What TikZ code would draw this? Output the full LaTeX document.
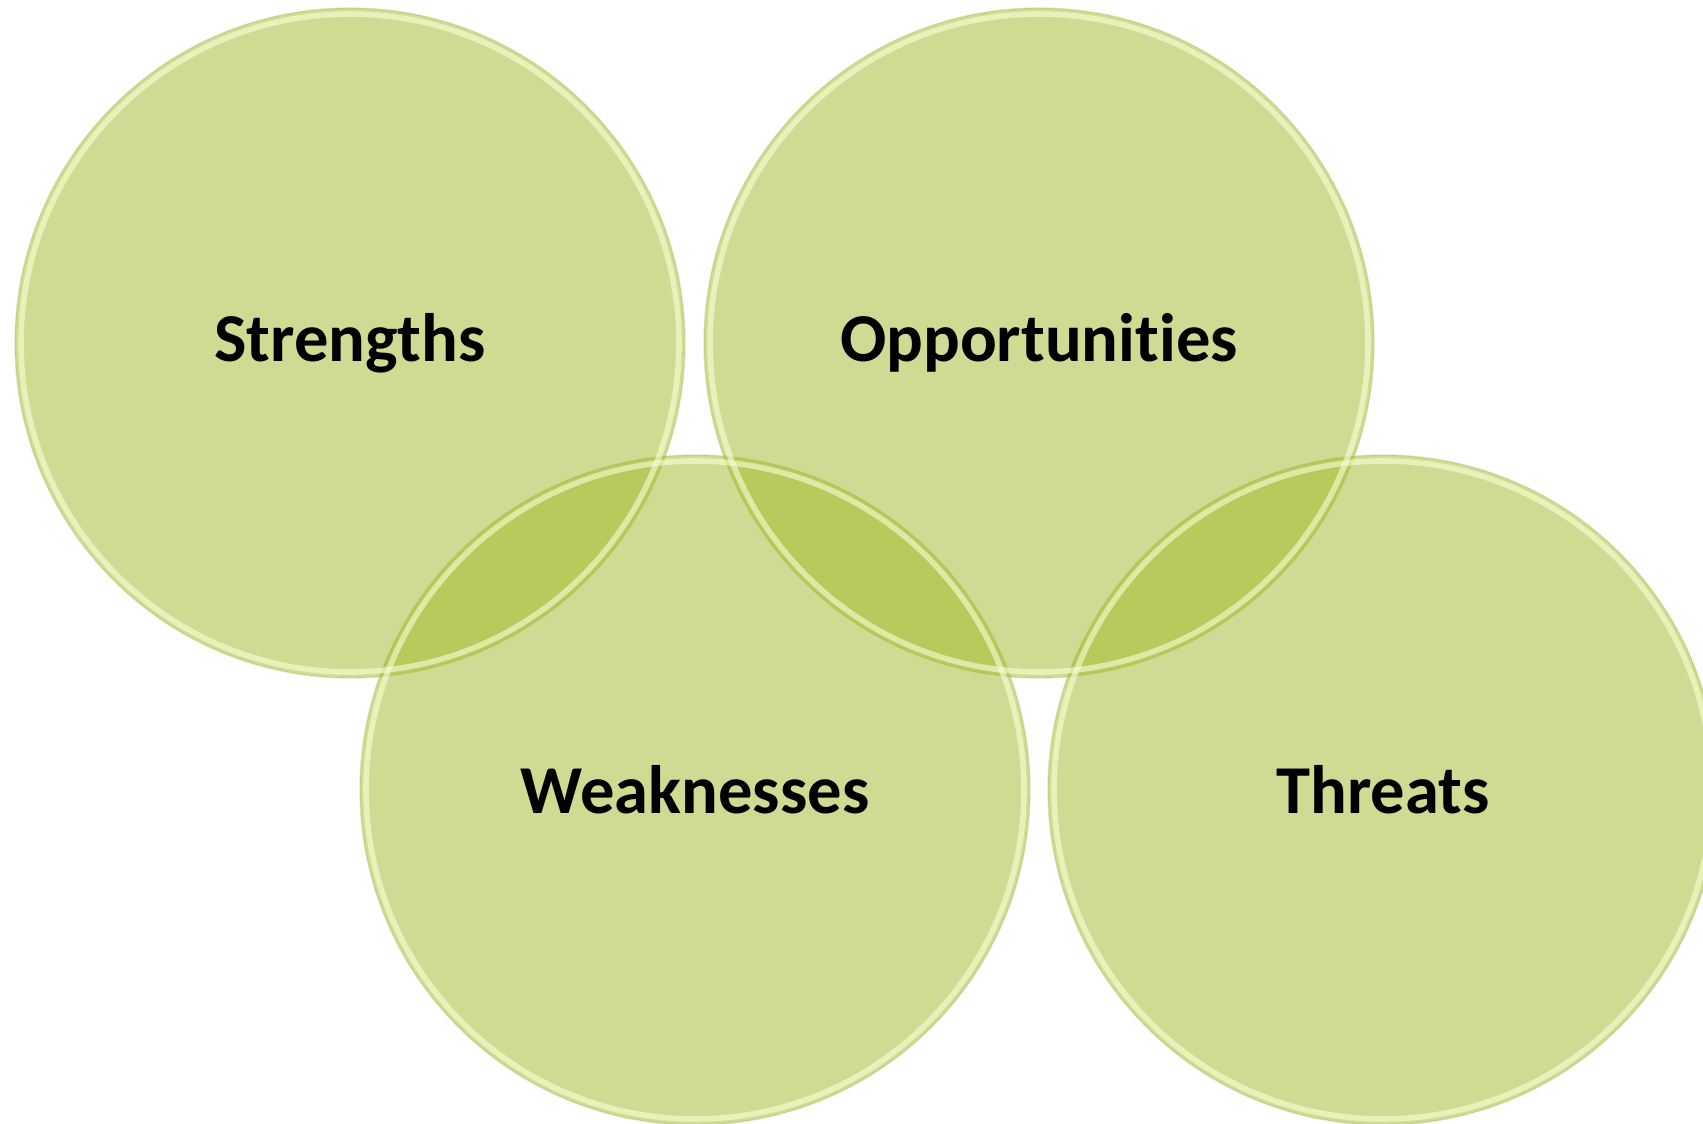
\documentclass[tikz,border=0pt]{standalone}
\usepackage{fontspec}
\setmainfont[Ligatures={NoCommon,NoContextual}]{Carlito}
\usetikzlibrary{positioning}

\definecolor{swotgreen}{RGB}{160,184,38}
\definecolor{swotrim}{RGB}{250,255,215}

\tikzset{
  swot/.style={circle, minimum size=6.70cm, inner sep=0pt, fill=swotgreen,
    fill opacity=0.5, text opacity=1, draw=swotgreen!70!gray, draw opacity=0.25,
    line width=0.4pt, font=\fontsize{19.5}{23}\selectfont\bfseries},
  rim/.style={draw=swotrim, line width=1.6pt, opacity=0.6}
}

\begin{document}
\begin{tikzpicture}
  \useasboundingbox (0,0) rectangle (17.03,-11.24);

  % Top row
  \node[swot] (str) at (3.50,-3.43) {Strengths};
  \node[swot] (opp) at (10.39,-3.43) {Opportunities};

  % Bottom row
  \node[swot] (wea) at (6.95,-7.90) {Weaknesses};
  \node[swot] (thr) at (13.83,-7.90) {Threats};

  % Light rims just inside the edges
  \foreach \c in {str,opp,wea,thr}
    \draw[rim] (\c.center) circle (3.29);
\end{tikzpicture}
\end{document}
